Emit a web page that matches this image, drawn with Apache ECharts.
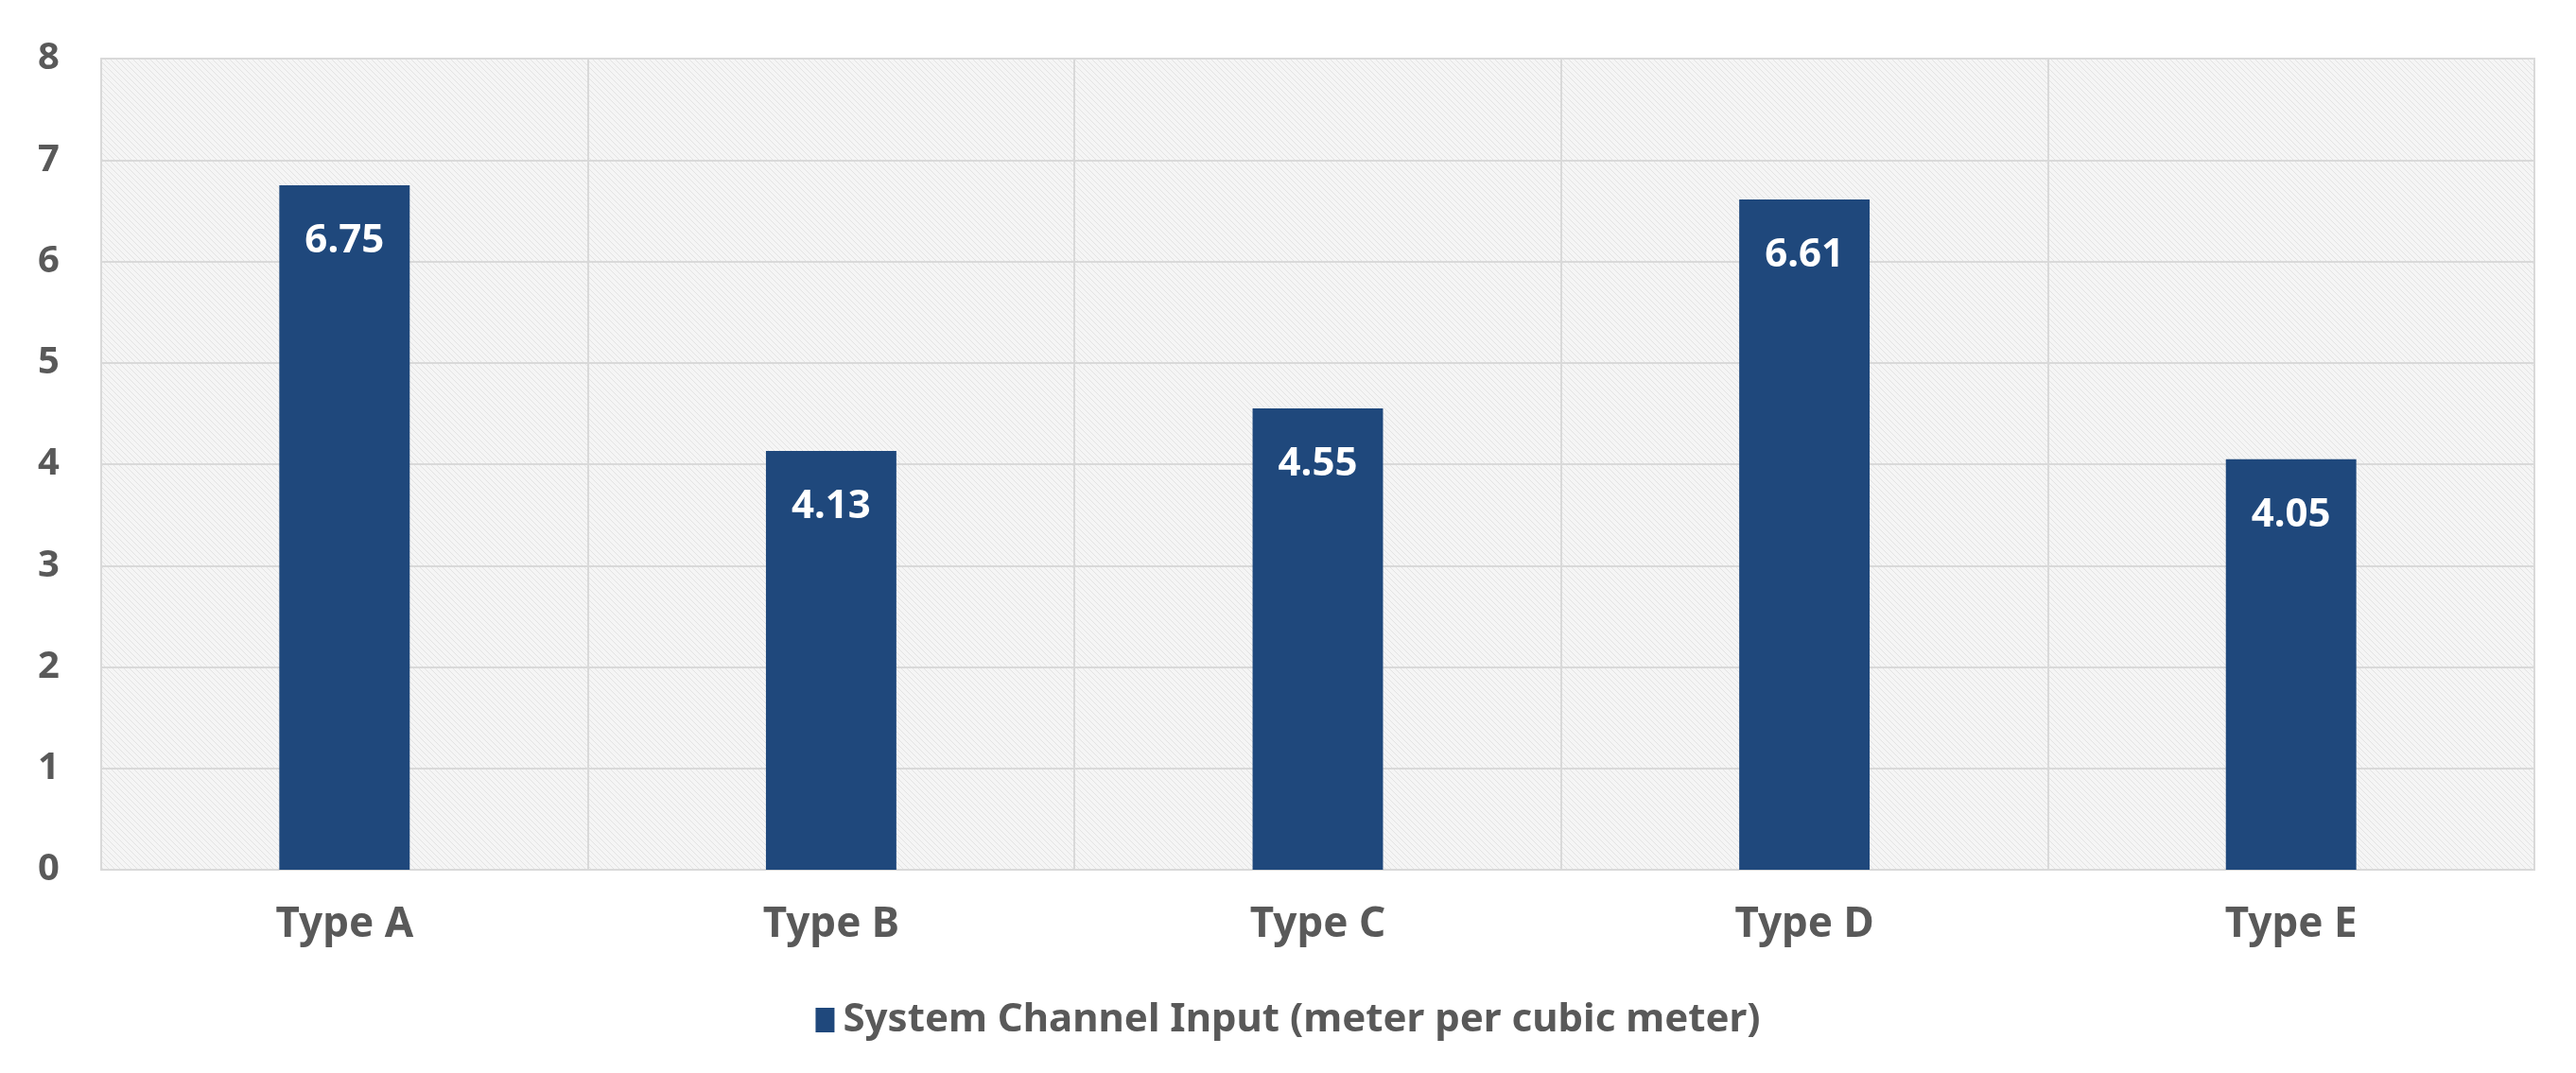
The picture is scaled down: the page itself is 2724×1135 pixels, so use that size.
<!DOCTYPE html>
<html>
<head>
<meta charset="utf-8">
<script src="https://cdn.jsdelivr.net/npm/echarts@6/dist/echarts.min.js"></script>
<style>
html,body{margin:0;padding:0;background:#fff;}
#chart{width:2724px;height:1135px;}
</style>
</head>
<body>
<div id="chart"></div>
<script>
const categories = ['Type A', 'Type B', 'Type C', 'Type D', 'Type E'];
const seriesName = 'System Channel Input (meter per cubic meter)';
const values = [6.75, 4.13, 4.55, 6.61, 4.05];
const yTicks = [0, 1, 2, 3, 4, 5, 6, 7, 8];

// hatch pattern for plot background
const pc = document.createElement('canvas');
pc.width = 6; pc.height = 6;
const ctx = pc.getContext('2d');
ctx.fillStyle = '#f5f5f5';
ctx.fillRect(0, 0, 6, 6);
ctx.strokeStyle = '#e3e3e3';
ctx.lineWidth = 1;
ctx.beginPath();
ctx.moveTo(0, 0); ctx.lineTo(6, 6);
ctx.moveTo(-3, 3); ctx.lineTo(3, 9);
ctx.moveTo(3, -3); ctx.lineTo(9, 3);
ctx.stroke();

const chart = echarts.init(document.getElementById('chart'));
const font = '"Noto Sans", "DejaVu Sans", sans-serif';
chart.setOption({
  animation: false,
  backgroundColor: '#ffffff',
  textStyle: { fontFamily: font },
  grid: {
    left: 107, right: 44, top: 62, bottom: 215,
    show: true,
    backgroundColor: { image: pc, repeat: 'repeat' },
    borderColor: '#d9d9d9',
    borderWidth: 2
  },
  legend: {
    data: [seriesName],
    bottom: 30,
    left: 'center',
    itemWidth: 20,
    itemHeight: 26,
    itemGap: 10,
    icon: 'rect',
    textStyle: { fontSize: 42, color: '#595959', fontFamily: font, fontWeight: 'bold', padding: [0, 0, 0, 4] }
  },
  xAxis: {
    type: 'category',
    data: categories,
    axisLine: { show: true, lineStyle: { color: '#d9d9d9', width: 2 } },
    axisTick: { show: false },
    splitLine: { show: true, interval: 0, lineStyle: { color: '#d9d9d9', width: 2 } },
    axisLabel: { fontSize: 44, fontWeight: 'bold', color: '#595959', margin: 36, fontFamily: font }
  },
  yAxis: {
    type: 'value',
    min: yTicks[0],
    max: yTicks[yTicks.length - 1],
    interval: 1,
    axisLine: { show: false },
    axisTick: { show: false },
    splitLine: { show: true, lineStyle: { color: '#d9d9d9', width: 2 } },
    axisLabel: { fontSize: 40, fontWeight: 'bold', color: '#595959', margin: 44, fontFamily: font }
  },
  series: [{
    name: seriesName,
    type: 'bar',
    data: values,
    barWidth: '26.8%',
    itemStyle: { color: '#1f487c' },
    label: {
      show: true,
      position: 'insideTop',
      distance: 38,
      color: '#ffffff',
      fontSize: 42,
      lineHeight: 42,
      fontWeight: 'bold',
      fontFamily: font,
      formatter: p => p.value.toFixed(2)
    }
  }]
});
</script>
</body>
</html>
